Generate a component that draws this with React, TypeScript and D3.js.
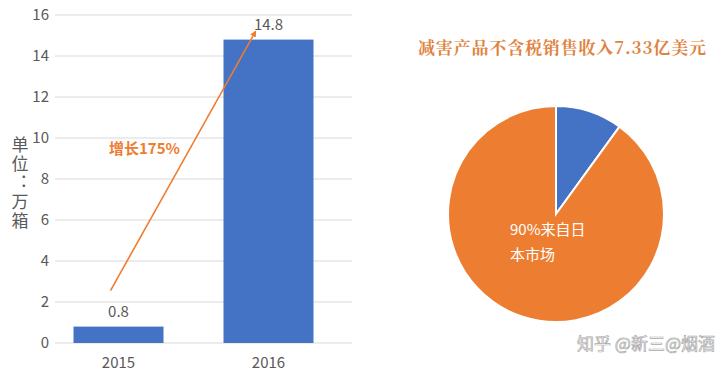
import React, { useEffect, useRef } from 'react';
import * as d3 from 'd3';

const years = ['2015', '2016'];
const volumes = [0.8, 14.8];
const yTicks = [0, 2, 4, 6, 8, 10, 12, 14, 16];
const growthLabel = '增长175%';
const axisTitle = '单位：万箱';

const pieLabels = ['其他市场', '日本市场'];
const pieShares = [10, 90];
const pieTitle = '减害产品不含税销售收入7.33亿美元';
const pieNote = ['90%来自日', '本市场'];
const watermark = '知乎 @新三@烟酒';

const W = 715;
const H = 372;
const BLUE = '#4472C4';
const ORANGE = '#ED7D31';
const GRAY = '#595959';
const FONT = '"Noto Sans CJK SC", "Noto Sans", sans-serif';

export default function App() {
  const svgRef = useRef<SVGSVGElement>(null);

  useEffect(() => {
    if (!svgRef.current) return;
    const svg = d3.select(svgRef.current);
    svg.selectAll('*').remove();

    // bar chart
    const x = d3.scaleBand<string>()
      .domain(years)
      .range([43.5, 343.5])
      .paddingInner(0.4)
      .paddingOuter(0.2);

    const y = d3.scaleLinear().domain([0, 16]).range([343, 15]);

    const g = svg.append('g');

    g.selectAll('.grid')
      .data(yTicks)
      .enter().append('line')
      .attr('x1', 55)
      .attr('x2', 352)
      .attr('y1', d => y(d))
      .attr('y2', d => y(d))
      .attr('stroke', '#d9d9d9')
      .attr('stroke-width', 1.2);

    g.selectAll('.ytick')
      .data(yTicks)
      .enter().append('text')
      .attr('x', 49)
      .attr('y', d => y(d))
      .attr('dy', '0.36em')
      .attr('text-anchor', 'end')
      .style('font-family', FONT)
      .style('font-size', '15px')
      .attr('fill', GRAY)
      .text(d => d);

    g.selectAll('.bar')
      .data(volumes)
      .enter().append('rect')
      .attr('x', (d, i) => x(years[i])!)
      .attr('width', x.bandwidth())
      .attr('y', d => y(d))
      .attr('height', d => y(0) - y(d))
      .attr('fill', BLUE);

    g.selectAll('.vlabel')
      .data(volumes)
      .enter().append('text')
      .attr('x', (d, i) => x(years[i])! + x.bandwidth() / 2)
      .attr('y', d => y(d) - 10)
      .attr('text-anchor', 'middle')
      .style('font-family', FONT)
      .style('font-size', '15px')
      .attr('fill', GRAY)
      .text(d => d);

    g.selectAll('.xlabel')
      .data(years)
      .enter().append('text')
      .attr('x', d => x(d)! + x.bandwidth() / 2)
      .attr('y', 368)
      .attr('text-anchor', 'middle')
      .style('font-family', FONT)
      .style('font-size', '15px')
      .attr('fill', GRAY)
      .text(d => d);

    // vertical axis title, one text in vertical writing mode
    g.append('text')
      .attr('x', 20)
      .attr('y', 136)
      .style('writing-mode', 'vertical-rl')
      .style('font-family', FONT)
      .style('font-size', '17px')
      .style('letter-spacing', '2px')
      .attr('fill', GRAY)
      .text(axisTitle);

    // growth arrow
    const defs = svg.append('defs');
    defs.append('marker')
      .attr('id', 'arrow')
      .attr('viewBox', '0 0 10 10')
      .attr('refX', 8)
      .attr('refY', 5)
      .attr('markerWidth', 4)
      .attr('markerHeight', 4)
      .attr('orient', 'auto')
      .append('path')
      .attr('d', 'M0,0L10,5L0,10z')
      .attr('fill', ORANGE);

    const ax0 = x(years[0])! + x.bandwidth() / 2 - 8;
    const ax1 = x(years[1])! + x.bandwidth() / 2 - 13;
    g.append('line')
      .attr('x1', ax0)
      .attr('y1', y(volumes[0]) - 36)
      .attr('x2', ax1)
      .attr('y2', y(volumes[1]) - 8)
      .attr('stroke', ORANGE)
      .attr('stroke-width', 1.6)
      .attr('marker-end', 'url(#arrow)');

    g.append('text')
      .attr('x', 109)
      .attr('y', 154)
      .style('font-family', FONT)
      .style('font-size', '15px')
      .style('font-weight', 'bold')
      .attr('fill', ORANGE)
      .text(growthLabel);

    // pie
    const cx = 556;
    const cy = 214;
    const r = 108;
    const pie = d3.pie<number>().sort(null).value(d => d);
    const arc = d3.arc<d3.PieArcDatum<number>>().innerRadius(0).outerRadius(r);
    const pg = svg.append('g').attr('transform', `translate(${cx},${cy})`);
    pg.selectAll('path')
      .data(pie(pieShares))
      .enter().append('path')
      .attr('d', arc)
      .attr('fill', (d, i) => (i === 0 ? BLUE : ORANGE))
      .attr('stroke', '#fff')
      .attr('stroke-width', 2)
      .append('title')
      .text((d, i) => `${pieLabels[i]} ${d.data}%`);

    pg.selectAll('.note')
      .data(pieNote)
      .enter().append('text')
      .attr('x', -46)
      .attr('y', (d, i) => 21 + i * 25)
      .style('font-family', FONT)
      .style('font-size', '15px')
      .attr('fill', '#fff')
      .text(d => d);

    svg.append('text')
      .attr('x', 418)
      .attr('y', 54)
      .attr('textLength', 288)
      .style('font-family', '"Noto Serif CJK SC", "Noto Sans CJK SC", serif')
      .style('font-size', '17px')
      .style('font-weight', 'bold')
      .attr('fill', '#E0833F')
      .text(pieTitle);

    svg.append('text')
      .attr('x', 577)
      .attr('y', 350)
      .style('font-family', FONT)
      .style('font-size', '17px')
      .attr('fill', '#fff')
      .attr('stroke', '#aaa')
      .attr('stroke-width', 0.7)
      .text(watermark);
  }, []);

  return (
    <svg
      ref={svgRef}
      width={W}
      height={H}
      style={{ position: 'absolute', left: 0, top: 0, background: '#fff' }}
    />
  );
}
